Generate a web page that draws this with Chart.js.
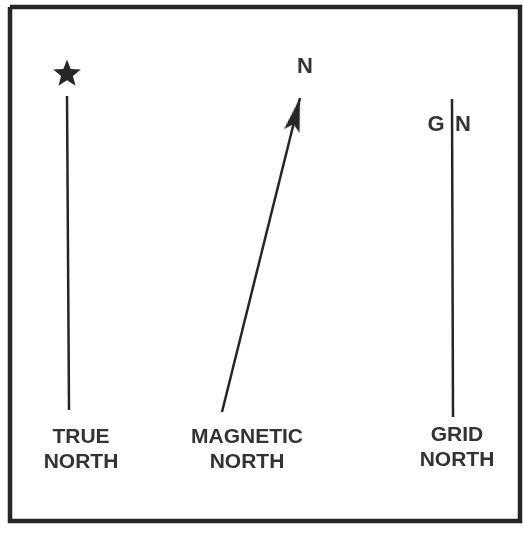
<!DOCTYPE html>
<html>
<head>
<meta charset="utf-8">
<script src="https://cdn.jsdelivr.net/npm/chart.js@4"></script>
<style>
  html, body { margin: 0; padding: 0; background: #fff; }
  canvas { display: block; }
</style>
</head>
<body>
<canvas id="northChart" width="523" height="548"></canvas>
<script>
// Lineas de los tres nortes (unidades del dibujo, y hacia abajo)
const trueNorthLine = [{x: 69, y: 410}, {x: 67, y: 96}];
const magneticNorthLine = [{x: 222, y: 412}, {x: 300, y: 98}];
const gridNorthLine = [{x: 452, y: 99}, {x: 453, y: 417}];
const starPoint = [{x: 67, y: 73}];
const arrowTip = [{x: 300, y: 98}];
const frameLine = [{x: 10, y: 7}, {x: 520, y: 7}, {x: 520, y: 521}, {x: 10, y: 521}, {x: 10, y: 7}];

// Textos
const bottomLabels = [['TRUE', 'NORTH'], ['MAGNETIC', 'NORTH'], ['GRID', 'NORTH']];
const bottomLabelX = [81, 247, 457];
const topLabels = ['N', 'G', 'N'];
const topLabelPos = [{x: 305, y: 67}, {x: 436, y: 125}, {x: 463, y: 125}];

const ink = '#262626';

// Estrella rellena como imagen de punto
const starImg = document.createElement('canvas');
starImg.width = 30; starImg.height = 30;
(function () {
    const c = starImg.getContext('2d');
    c.fillStyle = ink;
    c.beginPath();
    for (let i = 0; i < 10; i++) {
        const r = i % 2 === 0 ? 14.5 : 6.2;
        const a = -Math.PI / 2 + i * Math.PI / 5;
        const px = 15 + r * Math.cos(a), py = 16 + r * Math.sin(a);
        if (i === 0) c.moveTo(px, py); else c.lineTo(px, py);
    }
    c.closePath();
    c.fill();
})();

// Punta de flecha (la punta queda en el centro de la imagen)
const arrowImg = document.createElement('canvas');
arrowImg.width = 18; arrowImg.height = 72;
(function () {
    const c = arrowImg.getContext('2d');
    c.fillStyle = ink;
    c.beginPath();
    c.moveTo(9, 36);
    c.lineTo(17, 70);
    c.lineTo(9, 63);
    c.lineTo(1, 70);
    c.closePath();
    c.fill();
})();
const arrowAngle = Math.atan2(magneticNorthLine[1].x - magneticNorthLine[0].x,
    magneticNorthLine[0].y - magneticNorthLine[1].y) * 180 / Math.PI;

const textPlugin = {
    id: 'textPlugin',
    afterDatasetsDraw(chart) {
        const {ctx, scales: {x, y}} = chart;
        ctx.save();
        ctx.fillStyle = '#333';
        ctx.textAlign = 'center';
        ctx.textBaseline = 'middle';
        ctx.font = 'bold 21px "Liberation Sans", Arial, sans-serif';
        bottomLabels.forEach((lines, i) => {
            lines.forEach((t, j) => {
                ctx.fillText(t, x.getPixelForValue(bottomLabelX[i]), y.getPixelForValue(437 + j * 25 - (i === 2 ? 1.5 : 0)));
            });
        });
        ctx.font = 'bold 22px "Liberation Sans", Arial, sans-serif';
        topLabels.forEach((t, i) => {
            ctx.fillText(t, x.getPixelForValue(topLabelPos[i].x), y.getPixelForValue(topLabelPos[i].y));
        });
        ctx.restore();
    }
};

const lineSet = (data, width) => ({
    data: data,
    showLine: true,
    borderColor: ink,
    borderWidth: width,
    pointRadius: 0,
    fill: false
});

new Chart(document.getElementById('northChart'), {
    type: 'scatter',
    data: {
        datasets: [
            lineSet(frameLine, 4.5),
            lineSet(trueNorthLine, 2.5),
            lineSet(magneticNorthLine, 2.5),
            lineSet(gridNorthLine, 2.5),
            {data: starPoint, pointStyle: starImg, pointRadius: 15},
            {data: arrowTip, pointStyle: arrowImg, pointRadius: 9, rotation: arrowAngle}
        ]
    },
    options: {
        responsive: false,
        animation: false,
        layout: {padding: 0, autoPadding: false},
        scales: {
            x: {display: false, min: 0, max: 523},
            y: {display: false, min: 0, max: 548, reverse: true}
        },
        plugins: {legend: {display: false}, tooltip: {enabled: false}},
        elements: {line: {tension: 0, borderJoinStyle: 'miter'}}
    },
    plugins: [textPlugin]
});
</script>
</body>
</html>
